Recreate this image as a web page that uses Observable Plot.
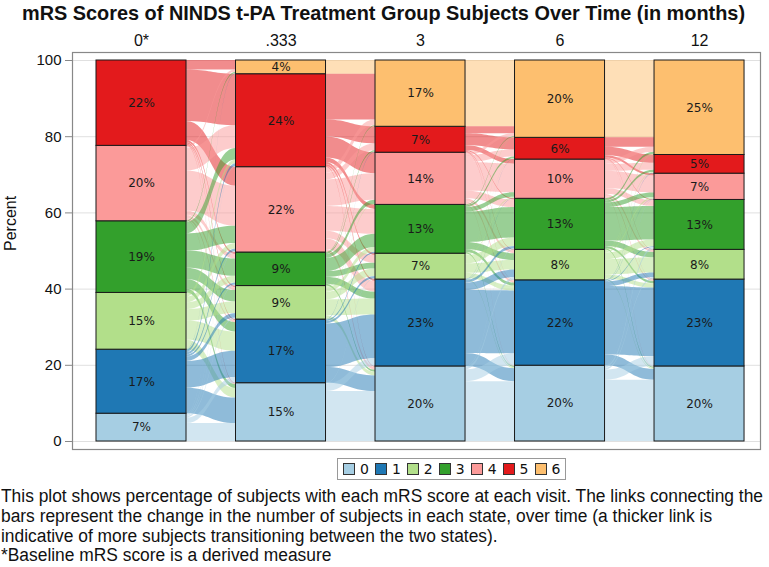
<!DOCTYPE html>
<html>
<head>
<meta charset="utf-8">
<script src="https://cdn.jsdelivr.net/npm/d3@7"></script>
<script src="https://cdn.jsdelivr.net/npm/@observablehq/plot@0.6"></script>
<style>
  body { margin: 0; background: white; }
  #wrap { position: relative; width: 769px; height: 567px; overflow: hidden; font-family: "Liberation Sans", Arial, sans-serif; color: #111; }
  #title { position: absolute; top: 1px; left: 22px; font-weight: bold; font-size: 20.5px; white-space: nowrap; transform-origin: left top; }
  #legend { position: absolute; top: 458px; left: 337px; height: 20px; border: 1px solid #999; display: flex; align-items: center; padding: 0 3px 0 5px; font-family: "DejaVu Sans", sans-serif; font-size: 14px; }
  .item { display: flex; align-items: center; margin: 0 6px 0 0; }
  .item:last-child { margin-right: 2px; }
  .sw { width: 10px; height: 10px; border: 1px solid #333; margin-right: 5px; }
  #caption { position: absolute; top: 487px; left: 1px; font-size: 18px; line-height: 19.8px; white-space: nowrap; transform-origin: left top; }
</style>
</head>
<body>
<div id="wrap">
  <div id="chart"></div>
  <div id="title">mRS Scores of NINDS t-PA Treatment Group Subjects Over Time (in months)</div>
  <div id="legend"></div>
  <div id="caption">This plot shows percentage of subjects with each mRS score at each visit. The links connecting the<br>bars represent the change in the number of subjects in each state, over time (a thicker link is<br>indicative of more subjects transitioning between the two states).<br>*Baseline mRS score is a derived measure</div>
</div>
<script>
// ---- data ----
const timeLabels = ["0*", ".333", "3", "6", "12"];
const states = ["0", "1", "2", "3", "4", "5", "6"];
const stateColors = ["#a6cee3", "#1f78b4", "#b2df8a", "#33a02c", "#fb9a99", "#e31a1c", "#fdbf6f"];
const yTicks = [0, 20, 40, 60, 80, 100];

// percent of subjects in each state (0..6) at each visit
const pctT0 = [7.3, 16.8, 14.9, 18.8, 19.8, 22.4, 0];
const pctT1 = [15.3, 16.7, 8.8, 8.8, 22.4, 24.4, 3.6];
const pctT2 = [19.7, 22.8, 6.8, 12.8, 13.7, 6.8, 17.4];
const pctT3 = [19.9, 22.4, 8.0, 13.4, 10.3, 5.7, 20.3];
const pctT4 = [19.7, 22.8, 7.8, 13.1, 6.9, 4.9, 24.8];

// transitions (percent of subjects), rows = source state 0..6, cols = target state 0..6
const flows01 = [
  [4.7, 1.4, 0.4, 0.3, 0.3, 0.2, 0],
  [6.7, 7.0, 1.2, 0.5, 0.6, 0.7, 0.1],
  [2.5, 5.0, 3.0, 1.8, 1.5, 1.0, 0.1],
  [1.0, 2.5, 3.0, 4.5, 4.5, 3.0, 0.3],
  [0.2, 0.5, 0.8, 1.2, 10.5, 6.0, 0.6],
  [0.2, 0.3, 0.4, 0.5, 5.0, 13.5, 2.5],
  [0, 0, 0, 0, 0, 0, 0]
];
const flows12 = [
  [13.1, 2.0, 0.2, 0, 0, 0, 0],
  [4.1, 11.5, 0.6, 0.4, 0, 0.1, 0],
  [1.0, 4.2, 2.0, 1.2, 0.2, 0.1, 0.1],
  [0.5, 1.8, 1.5, 3.5, 1.0, 0.3, 0.2],
  [0.8, 2.8, 2.0, 6.5, 7.0, 1.8, 1.5],
  [0.2, 0.5, 0.5, 1.2, 5.5, 4.5, 12.0],
  [0, 0, 0, 0, 0, 0, 3.6]
];
const flows23 = [
  [15.7, 3.1, 0.7, 0.2, 0, 0, 0],
  [3.4, 16.5, 2.0, 0.7, 0.1, 0.1, 0],
  [0.3, 1.3, 2.5, 2.2, 0.3, 0.1, 0.1],
  [0.3, 0.8, 1.8, 8.0, 1.2, 0.5, 0.2],
  [0.2, 0.6, 0.8, 2.0, 7.5, 1.8, 0.8],
  [0, 0.1, 0.2, 0.3, 1.2, 3.2, 1.8],
  [0, 0, 0, 0, 0, 0, 17.4]
];
const flows34 = [
  [16.1, 2.6, 0.5, 0.6, 0.1, 0, 0],
  [2.8, 18.0, 1.2, 0.2, 0.1, 0.1, 0],
  [0.3, 1.1, 4.0, 1.8, 0.4, 0.2, 0.2],
  [0.3, 0.6, 1.4, 8.8, 1.2, 0.6, 0.5],
  [0.2, 0.4, 0.6, 1.5, 4.5, 1.8, 1.3],
  [0, 0.1, 0.1, 0.2, 0.6, 2.2, 2.5],
  [0, 0, 0, 0, 0, 0, 20.3]
];

// ---- derived tables ----
const pcts = [pctT0, pctT1, pctT2, pctT3, pctT4];
const flows = [flows01, flows12, flows23, flows34];
const half = 0.3226;

const bars = [];
pcts.forEach((p, t) => {
  let base = 0;
  p.forEach((v, s) => {
    bars.push({t, s, y1: base, y2: base + v, v});
    base += v;
  });
});
const barTop = (t, s) => bars.find(b => b.t === t && b.s === s).y2;

const linkRows = [];
flows.forEach((m, g) => {
  const srcCur = states.map((_, s) => barTop(g, s));
  const tgtCur = states.map((_, s) => barTop(g + 1, s));
  const srcPos = {}, tgtPos = {};
  for (let s = 6; s >= 0; s--) {
    for (let t = 6; t >= 0; t--) {
      const f = m[s][t];
      if (!f) continue;
      srcPos[s + "-" + t] = [srcCur[s] - f, srcCur[s]];
      srcCur[s] -= f;
    }
  }
  for (let t = 6; t >= 0; t--) {
    for (let s = 6; s >= 0; s--) {
      const f = m[s][t];
      if (!f) continue;
      tgtPos[s + "-" + t] = [tgtCur[t] - f, tgtCur[t]];
      tgtCur[t] -= f;
    }
  }
  Object.keys(srcPos).forEach(k => {
    const s = +k.split("-")[0];
    const id = g + ":" + k;
    linkRows.push({id, s, x: g + half, y1: srcPos[k][0], y2: srcPos[k][1]});
    linkRows.push({id, s, x: g + 1 - half, y1: tgtPos[k][0], y2: tgtPos[k][1]});
  });
});

const chart = Plot.plot({
  width: 769,
  height: 458,
  marginLeft: 72,
  marginRight: 9,
  marginTop: 52,
  marginBottom: 9,
  style: {fontFamily: '"Liberation Sans", Arial, sans-serif', fontSize: "15px", color: "#111", background: "white"},
  x: {domain: [-0.4946, 4.437], axis: null},
  y: {domain: [-2.1, 102.1], axis: null},
  color: {type: "identity"},
  marks: [
    Plot.gridY({ticks: yTicks, stroke: "#e0e0e0", strokeOpacity: 1}),
    Plot.areaY(linkRows, {x: "x", y1: "y1", y2: "y2", z: "id", fill: d => stateColors[d.s], fillOpacity: 0.5, curve: "bump-x"}),
    Plot.rect(bars.filter(b => b.v > 0), {x1: d => d.t - half, x2: d => d.t + half, y1: "y1", y2: "y2", fill: d => stateColors[d.s], stroke: "#1a1a1a", strokeWidth: 1}),
    Plot.text(bars.filter(b => b.v > 0), {x: "t", y: d => (d.y1 + d.y2) / 2, text: d => Math.round(d.v) + "%", fill: "#1a1a1a", fontSize: 12, fontFamily: '"DejaVu Sans", sans-serif'}),
    Plot.axisY({ticks: yTicks, tickSize: 7, tickPadding: 4, stroke: "#888", fill: "#111", label: null, fontSize: 15}),
    Plot.axisX({anchor: "top", ticks: [0, 1, 2, 3, 4], tickFormat: i => timeLabels[i], tickSize: 0, tickPadding: 7, label: null, fill: "#111", fontSize: 16}),
    Plot.text(["Percent"], {frameAnchor: "left", dx: -62, rotate: -90, fill: "#111", fontSize: 16}),
    Plot.frame({stroke: "#888", strokeWidth: 1.2})
  ]
});
document.getElementById("chart").appendChild(chart);

const legend = document.getElementById("legend");
states.forEach((s, i) => {
  const item = document.createElement("div");
  item.className = "item";
  const sw = document.createElement("div");
  sw.className = "sw";
  sw.style.background = stateColors[i];
  const lab = document.createElement("span");
  lab.textContent = s;
  item.appendChild(sw);
  item.appendChild(lab);
  legend.appendChild(item);
});

// condense title and caption to the reference's narrow text widths
function fitWidth(el, target) {
  const w = el.getBoundingClientRect().width;
  el.style.transform = "scaleX(" + (target / w) + ")";
}
fitWidth(document.getElementById("title"), 723);
fitWidth(document.getElementById("caption"), 762);
</script>
</body>
</html>
